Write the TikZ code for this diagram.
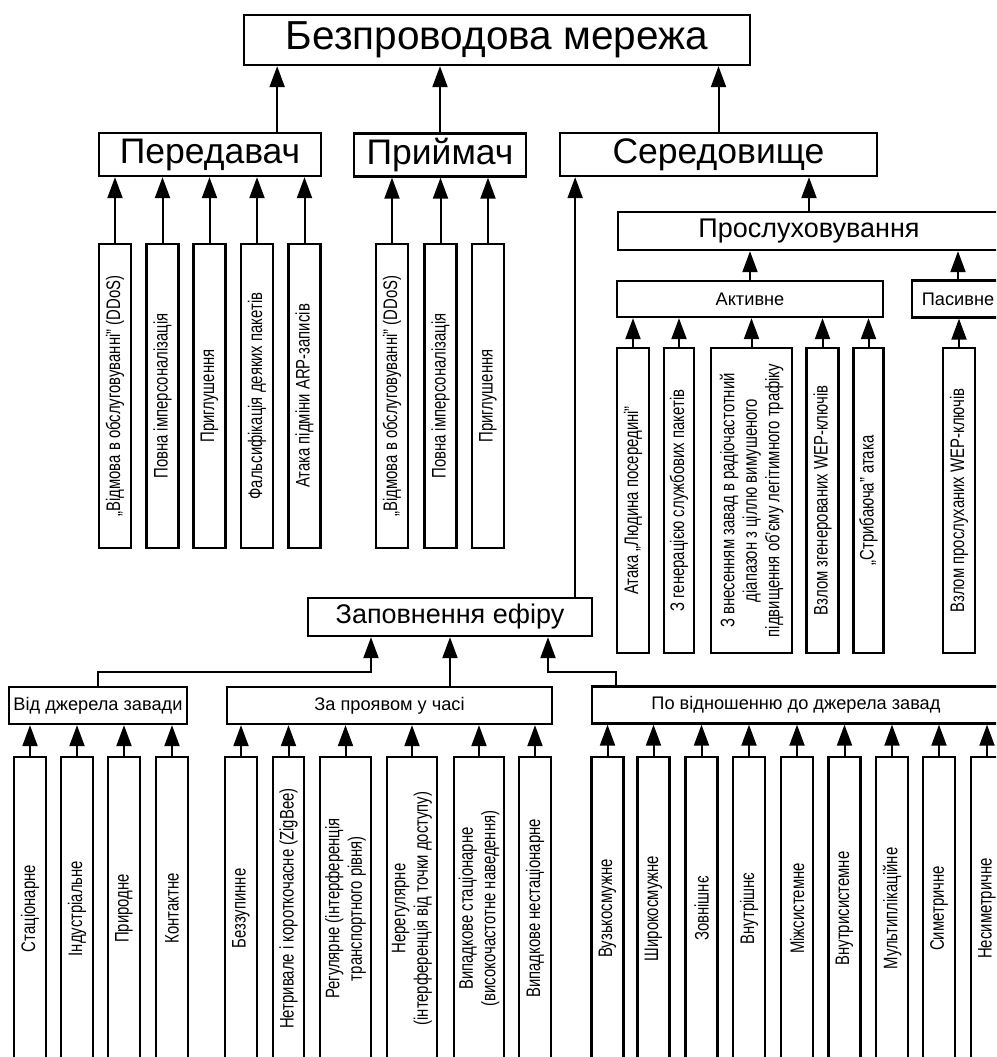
\documentclass[tikz,border=0pt]{standalone}
\usepackage{fontspec}
\setmainfont{Liberation Sans}
\newfontfamily\narrowfont[FakeStretch=0.76]{Liberation Sans}
\usetikzlibrary{arrows.meta,calc}
\tikzset{block/.style={draw,line width=2.3pt,inner sep=0pt,align=center},
         lvlone/.style={block,minimum height=43pt,font=\fontsize{35.5}{37}\selectfont},
         lvltwo/.style={block,minimum height=38pt,font=\fontsize{27}{29}\selectfont},
         small/.style={block,minimum height=37pt,font=\fontsize{18.2}{20}\selectfont},
         vblock/.style={block,rotate=90,minimum height=32pt,font=\narrowfont\fontsize{19.6}{22.5}\selectfont},
         line/.style={line width=2pt,-{Triangle[length=21pt,width=15pt]}}
}

\begin{document}
\begin{tikzpicture}[x=1pt,y=-1pt]
\useasboundingbox (0,0) rectangle (996,1057);
\clip (0,0) rectangle (996,1057);

% Top
\node[block,minimum width=506pt,minimum height=50pt,font=\fontsize{40.5}{42}\selectfont] (net) at (497,40) {Безпроводова мережа};

% Level 1
\node[lvlone,minimum width=222pt] (tx) at (210,154.5) {Передавач};
\node[lvlone,minimum width=172pt] (rx) at (440,155) {Приймач};
\node[lvlone,minimum width=317pt] (med) at (718.5,154.5) {Середовище};

% Transmitter attacks
\node[vblock,minimum width=304pt] (tx1) at (115,396) {„Відмова в обслуговуванні” (DDoS)};
\node[vblock,minimum width=304pt] (tx2) at (162.5,396) {Повна імперсоналізація};
\node[vblock,minimum width=304pt] (tx3) at (209.5,396) {Приглушення};
\node[vblock,minimum width=304pt] (tx4) at (257,396) {Фальсифікація деяких пакетів};
\node[vblock,minimum width=304pt] (tx5) at (304.5,396) {Атака підміни ARP-записів};

% Receiver attacks
\node[vblock,minimum width=304pt] (rx1) at (392,396) {„Відмова в обслуговуванні” (DDoS)};
\node[vblock,minimum width=304pt] (rx2) at (440.5,396) {Повна імперсоналізація};
\node[vblock,minimum width=304pt] (rx3) at (488,396) {Приглушення};

% Listening
\node[lvltwo,minimum width=382pt] (lis) at (809,231) {Прослуховування};
\node[small,minimum width=266pt,minimum height=36pt] (act) at (750,299) {Активне};
\node[small,minimum width=92pt] (pas) at (958,299) {Пасивне};

\node[vblock,minimum width=305pt] (act1) at (633,500.5) {Атака „Людина посередині”};
\node[vblock,minimum width=305pt,minimum height=30pt] (act2) at (679,500.5) {З генерацією службових пакетів};
\node[vblock,minimum width=305pt,minimum height=81pt] (act3) at (751.5,500.5) {З внесенням завад в радіочастотний\\діапазон з ціллю вимушеного\\підвищення об’єму легітимного трафіку};
\node[vblock,minimum width=305pt] (act4) at (822.5,500.5) {Взлом згенерованих WEP-ключів};
\node[vblock,minimum width=305pt,minimum height=30pt] (act5) at (868.5,500.5) {„Стрибаюча” атака};
\node[vblock,minimum width=305pt] (pas1) at (959,500.5) {Взлом прослуханих WEP-ключів};

% Jamming
\node[lvltwo,minimum width=284pt] (fill) at (450,617) {Заповнення ефіру};
\node[small,minimum width=178pt] (src) at (98,705.5) {Від джерела завади};
\node[small,minimum width=325pt] (time) at (389.5,705.5) {За проявом у часі};
\node[small,minimum width=408pt] (rel) at (796,705) {По відношенню до джерела завад};

\node[vblock,minimum width=303pt] (s1) at (30,908.5) {Стаціонарне};
\node[vblock,minimum width=303pt] (s2) at (77,908.5) {Індустріальне};
\node[vblock,minimum width=303pt] (s3) at (124,908.5) {Природне};
\node[vblock,minimum width=303pt] (s4) at (172,908.5) {Контактне};

\node[vblock,minimum width=303pt] (t1) at (241,908.5) {Беззупинне};
\node[vblock,minimum width=303pt,minimum height=31pt] (t2) at (288.5,908.5) {Нетривале і короткочасне (ZigBee)};
\node[vblock,minimum width=303pt,minimum height=51pt] (t3) at (345.5,908.5) {Регулярне (інтерференція\\транспортного рівня)};
\node[vblock,minimum width=303pt,minimum height=50pt] (t4) at (412,908.5) {Нерегулярне\\(інтерференція від точки доступу)};
\node[vblock,minimum width=303pt,minimum height=50pt] (t5) at (479,908.5) {Випадкове стаціонарне\\(високочастотне наведення)};
\node[vblock,minimum width=303pt] (t6) at (535,908.5) {Випадкове нестаціонарне};

\node[vblock,minimum width=303pt] (r1) at (607.5,908.5) {Вузькосмужне};
\node[vblock,minimum width=303pt] (r2) at (653.5,908.5) {Широкосмужне};
\node[vblock,minimum width=303pt] (r3) at (701.5,908.5) {Зовнішнє};
\node[vblock,minimum width=303pt] (r4) at (749,908.5) {Внутрішнє};
\node[vblock,minimum width=303pt] (r5) at (797,908.5) {Міжсистемне};
\node[vblock,minimum width=303pt] (r6) at (844.5,908.5) {Внутрисистемне};
\node[vblock,minimum width=303pt] (r7) at (892,908.5) {Мультиплікаційне};
\node[vblock,minimum width=303pt] (r8) at (939,908.5) {Симетричне};
\node[vblock,minimum width=303pt] (r9) at (987,908.5) {Несиметричне};

% Connectors to the top
\coordinate (a1) at ([xshift=-45pt]tx.north east);
\draw[line] (a1) -- (a1 |- net.south);
\draw[line] (rx.north) -- (rx.north |- net.south);
\draw[line] (med.north) -- (med.north |- net.south);

\draw[line] (tx1.east) -- (tx1.east |- tx.south);
\draw[line] (tx2.east) -- (tx2.east |- tx.south);
\draw[line] (tx3.east) -- (tx3.east |- tx.south);
\draw[line] (tx4.east) -- (tx4.east |- tx.south);
\draw[line] (tx5.east) -- (tx5.east |- tx.south);
\draw[line] (rx1.east) -- (rx1.east |- rx.south);
\draw[line] (rx2.east) -- (rx2.east |- rx.south);
\draw[line] (rx3.east) -- (rx3.east |- rx.south);

\draw[line] (lis.north) -- (lis.north |- med.south);
\draw[line] (act.north) -- (act.north |- lis.south);
\draw[line] (pas.north) -- (pas.north |- lis.south);
\draw[line] (act1.east) -- (act1.east |- act.south);
\draw[line] (act2.east) -- (act2.east |- act.south);
\draw[line] (act3.east) -- (act3.east |- act.south);
\draw[line] (act4.east) -- (act4.east |- act.south);
\draw[line] (act5.east) -- (act5.east |- act.south);
\draw[line] (pas1.east) -- (pas1.east |- pas.south);

\coordinate (a2) at ([xshift=-18pt]fill.north east);
\draw[line] (a2) -- (a2 |- med.south);
\coordinate (j1) at (371,672);
\draw[line] (src.north) |- (j1) -- (j1 |- fill.south);
\draw[line] (fill.south |- time.north) -- (fill.south);
\coordinate (j2) at (548,672);
\draw[line] ([xshift=25pt]rel.north west) |- (j2) -- (j2 |- fill.south);

\draw[line] (s1.east) -- (s1.east |- src.south);
\draw[line] (s2.east) -- (s2.east |- src.south);
\draw[line] (s3.east) -- (s3.east |- src.south);
\draw[line] (s4.east) -- (s4.east |- src.south);
\draw[line] (t1.east) -- (t1.east |- time.south);
\draw[line] (t2.east) -- (t2.east |- time.south);
\draw[line] (t3.east) -- (t3.east |- time.south);
\draw[line] (t4.east) -- (t4.east |- time.south);
\draw[line] (t5.east) -- (t5.east |- time.south);
\draw[line] (t6.east) -- (t6.east |- time.south);
\draw[line] (r1.east) -- (r1.east |- rel.south);
\draw[line] (r2.east) -- (r2.east |- rel.south);
\draw[line] (r3.east) -- (r3.east |- rel.south);
\draw[line] (r4.east) -- (r4.east |- rel.south);
\draw[line] (r5.east) -- (r5.east |- rel.south);
\draw[line] (r6.east) -- (r6.east |- rel.south);
\draw[line] (r7.east) -- (r7.east |- rel.south);
\draw[line] (r8.east) -- (r8.east |- rel.south);
\draw[line] (r9.east) -- (r9.east |- rel.south);

\end{tikzpicture}
\end{document}
